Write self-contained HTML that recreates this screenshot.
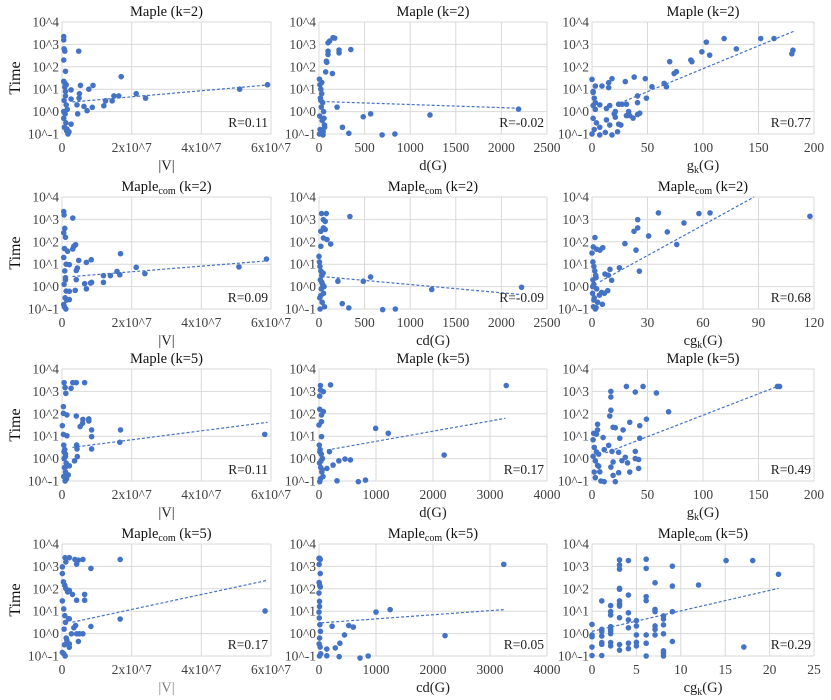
<!DOCTYPE html>
<html><head><meta charset="utf-8"><style>
body{margin:0;background:#fff;}
svg{display:block;font-family:"Liberation Serif",serif;}
</style></head><body>
<svg id="chart" width="831" height="700" viewBox="0 0 831 700" xmlns="http://www.w3.org/2000/svg"></svg>
<script>
// ---- data (x in axis units, y as log10(Time)) ----
const p1x=[0.48,1.70,0.53,0.89,0.77,0.26,0.5,0.49,1.49,1.63,2.13,2.4,5.1,5.9,1.2,1.44,1.25,0.63,0.72,0.87,0.45,0.26,0.14,0.43,0.26,0.05,0.05,0.06,0.08,0.05,0.1,0.07,0.05,0.12,0.08,0.1,0.06,0.12,0.15,0.09,0.05,0.11,0.07,0.13,0.2,0.17,0.05,0.1];
const p1y=[2.7,1.56,1.17,1.17,1.0,0.97,0.8,0.6,0.7,0.7,0.8,0.6,1.0,1.2,0.26,0.48,0.48,0.23,0.04,0.19,-0.1,-0.56,-0.78,0.3,0.56,3.35,3.2,2.8,2.7,2.3,1.8,1.3,1.35,1.2,1.1,0.7,0.5,0.3,0.1,-0.1,-0.3,-0.5,-0.7,-0.85,-0.9,-1.0,0.0,0.9];
const t1=[0.3,0.43,6,1.2];
const p2x=[117,154,172,99,99,99,81,85,220,220,349,147,73,198,485,566,1217,2188,257,327,692,832,62,44,5,10,20,30,15,40,25,50,8,35,60,12,45,30,20,55,5];
const p2y=[3.15,3.3,3.28,3.07,2.7,2.55,2.25,2.2,2.62,2.75,2.77,1.7,1.77,0.2,-0.23,-0.1,-0.15,0.11,-0.7,-0.97,-1.04,-1.0,-0.7,-1.04,1.45,1.2,1.0,0.8,0.6,0.4,0.2,0.0,-0.2,-0.4,-0.6,-0.8,-0.9,1.3,0.5,-0.3,-1.0];
const t2=[30,0.45,2200,0.15];
const p3x=[103,119,152,164,130,99,106,89,90,70,74,76,65,67,54,181,180,48,38,30,18,15,15,41,49,41,43,41,37,33,31,34,24,27,31,20,21,16,13,13,16,21,24,26,23,18,12,7,7,7,9,3,0,1,1,2,3,1,4,2,0,1,3];
const p3y=[3.1,3.26,3.26,3.26,2.8,2.67,2.52,2.3,2.23,2.23,1.7,1.78,1.26,1.11,1.11,2.74,2.58,1.47,1.54,1.34,1.47,1.29,1.07,0.7,0.6,0.4,-0.07,-0.13,-0.29,0.0,-0.18,-0.18,0.33,0.33,0.33,-0.1,-0.25,0.27,0.14,-0.37,-0.6,0.0,-0.56,-0.6,-0.9,-1.04,-0.93,-1.04,-0.7,0.3,1.14,1.14,1.44,0.86,0.27,0.6,0.1,-0.3,-0.5,-0.8,-1.0,0.9,0.4];
const t3=[25,0.38,182,3.59];
const p4x=[0.31,0.34,0.39,0.16,0.31,0.48,0.84,0.7,1.68,2.13,2.38,1.58,1.66,1.39,1.19,1.19,0.85,0.65,0.7,0.82,0.41,0.38,0.21,0.44,0.41,5.08,5.87,0.21,0.21,0.05,0.06,0.08,0.05,0.1,0.07,0.05,0.12,0.08,0.1,0.06,0.12,0.09,0.05,0.11,0.07,0.13,0.1];
const p4y=[3.06,1.8,1.87,1.58,1.68,1.17,1.2,1.08,1.47,0.86,0.58,0.68,0.53,0.49,0.49,0.19,0.19,0.13,-0.1,0.16,0.31,-0.17,0.98,0.83,0.72,0.88,1.23,-0.58,-0.21,3.35,3.2,2.6,2.4,2.2,1.7,1.3,1.0,0.7,0.4,0.1,-0.2,-0.5,-0.8,-1.0,-0.9,-0.6,0.3];
const t4=[0.3,0.45,5.9,1.15];
const p5x=[28,80,48,68,20,48,68,48,88,128,20,0,339,207,486,566,1236,2221,255,327,698,837,5,10,20,30,15,40,25,50,8,35,60,12,45,30,20,55];
const p5y=[3.26,3.26,2.99,2.91,2.47,2.62,2.55,2.17,2.1,1.9,1.8,1.35,3.13,0.24,0.24,0.43,-0.13,-0.03,-0.76,-0.95,-1.03,-1.0,1.1,0.9,0.7,0.5,0.3,0.1,-0.1,-0.3,-0.5,-0.7,-0.9,-1.0,0.6,0.2,-0.4,0.0];
const t5=[30,0.45,2200,-0.35];
const p6x=[35.9,57.8,63.8,117.8,49.7,24.7,24.7,22.7,30.6,40.7,45.8,17.8,23.8,1.6,0.7,5.8,4.3,2.5,0,14.8,9.7,25.6,7,8.8,10.6,8.5,5.2,6.7,4,5.6,2.2,0.5,1,1.5,2,0.5,1,2.5,0.3,1.2,3,0.8,1.8,0.4,2.2,1];
const p6y=[3.29,3.26,3.29,3.14,2.84,2.99,2.62,2.47,2.26,2.44,1.88,1.92,1.63,2.19,1.77,1.74,1.63,1.67,1.5,0.84,0.77,0.69,0.56,0.51,0.28,-0.18,-0.26,-0.3,-0.38,-0.79,-0.94,1.1,0.9,0.7,0.5,0.3,0.1,-0.1,-0.3,-0.5,-0.7,-0.9,-1.0,0.0,0.4,-0.6];
const t6=[4.3,0.22,87.6,4.0];
const p7x=[0.06,0.31,0.09,0.26,0.11,0.41,0.65,0.04,0.04,0.14,0.41,0.01,0.04,0.14,0.6,0.59,0.52,0.77,0.77,0.85,0.85,1.68,1.66,0.85,0.42,0.43,0.44,0.36,0.21,0.11,0.18,5.82,0.05,0.08,0.1,0.06,0.12,0.07,0.1,0.05,0.09,0.13,0.06,0.1];
const p7y=[3.39,3.39,3.17,3.14,2.91,3.39,3.39,2.32,2.02,1.95,1.9,1.47,1.08,1.02,1.75,1.58,1.43,1.68,1.77,1.28,0.98,1.28,0.73,0.43,0.61,0.43,0.09,-0.1,-0.32,-0.36,-0.73,1.08,0.6,0.4,0.2,0.0,-0.2,-0.4,-0.6,-0.8,-1.0,-0.9,0.3,0.1];
const t7=[0.3,0.5,5.9,1.62];
const p8x=[25,25,13,76,202,3285,13,76,44,0,44,44,994,1215,2196,184,456,551,348,247,139,316,690,816,13,5,20,40,60,10,30,50,70,15,35,55,25];
const p8y=[3.26,3.06,2.79,2.99,3.29,3.26,2.2,2.1,1.95,1.5,1.65,0.98,1.35,1.13,0.16,0.31,-0.02,-0.06,-0.1,-0.29,-0.44,-0.99,-1.03,-0.96,-1.03,0.6,0.4,0.2,0.0,-0.2,-0.4,-0.6,-0.8,0.3,-0.1,-0.5,-0.9];
const t8=[139,0.38,3272,1.8];
const p9x=[31,46,39,58,17,17,17,16,69,49,34,43,19,21,28,5,5,4,1.5,1,10,25,43,167,169,15,11,18,24,39,30,39,42,27,19,17,32,24,34,42,19,11,21,7,6,3,2,4,1,3,5,2,6,8];
const p9y=[3.22,3.22,2.97,2.93,3.0,2.75,2.16,1.9,2.09,1.76,1.62,1.47,1.4,1.38,1.28,1.53,1.28,1.09,1.13,0.84,0.94,0.91,0.91,3.22,3.22,0.59,0.4,0.32,0.28,0.32,0.06,0,-0.04,-0.09,-0.15,-0.38,-0.19,-0.63,-0.6,-0.44,-0.75,-1.03,-1.03,-0.59,-0.34,-0.85,0.5,0.3,0.1,-0.1,-0.3,-0.6,0.2,-1.0];
const t9=[12,0.25,167,3.22];
const p10x=[0.09,0.21,0.37,0.6,0.42,0.47,0.01,0.11,1.67,0.83,0.01,0.04,0.08,0.11,0.16,0.21,0.01,0.3,0.42,0.65,0.65,0.21,0.34,0.39,0.42,0.5,0.47,0.21,0.21,0.01,0.27,0.14,0.6,0.83,1.67,5.83,0.19,0.05,0.08,0.1,0.06,0.12,0.07,0.05,0.09];
const p10y=[3.39,3.39,3.31,3.31,3.1,3.28,2.98,3.2,3.31,2.91,2.68,2.31,2.16,2.01,1.86,1.93,1.46,1.75,1.49,1.49,1.75,0.66,0.26,0.36,-0.01,-0.01,-0.35,-0.46,-0.61,-0.84,-0.01,-0.31,-0.01,0.32,0.65,1.01,0.66,1.1,0.8,0.5,0.2,-0.2,-0.5,-0.9,-1.0];
const t10=[0.3,0.51,5.9,2.38];
const p11x=[0,12,22,2.5,22,2.5,12,22,0,9,9,0,3242,1000,1248,230,522,602,447,366,286,137,137,354,720,863,2211,2.5,5,15,25,10,20,30,8];
const p11y=[3.36,3.36,3.31,3.09,2.68,2.28,2.16,2.08,1.81,1.44,1.21,0.96,3.09,0.96,1.07,0.33,0.36,0.29,-0.06,-0.43,-0.64,-0.69,-0.99,-1.03,-1.09,-1.0,-0.09,-0.46,0.7,0.4,0.1,-0.2,-0.6,-0.9,-1.0];
const t11=[40,0.48,3240,1.07];
const p12x=[3.1,3.1,3.1,4.1,6.1,6.1,9.05,15.1,18.1,21,7.1,9.05,12,3.1,3.1,4.1,6.1,6.1,1.1,2.1,3.1,3.1,3.1,7.1,7.1,2.1,2.1,4.1,9.05,3.1,4.1,5,5,8.05,8.05,8.05,0,1.1,1.1,2.1,2.1,4.1,7.1,7.1,7.1,0,0,1.1,2.1,5,6.1,8.05,9.05,1.1,1.1,2.1,2.1,3.1,3.1,4.1,4.1,5,5,6.1,6.1,8.05,8.05,8.05,0,0,1.1,17.1,2.1];
const p12y=[3.29,3.06,2.88,3.26,3.32,2.91,3.01,3.26,3.26,2.65,2.27,2.12,2.17,2.02,1.98,1.72,1.65,1.47,1.46,1.25,1.46,1.32,1.23,1.08,0.98,0.98,0.83,0.93,0.98,0.71,0.61,0.58,0.34,0.79,0.65,0.39,0.41,0.19,0.09,0.31,0.2,0.26,0.34,0.19,-0.06,-0.06,-0.14,-0.11,0,-0.06,-0.06,-0.01,-0.35,-0.4,-0.48,-0.4,-0.55,-0.49,-0.74,-0.43,-0.67,-0.39,-0.55,-0.43,-1.0,-0.77,-0.87,-1.0,-0.6,-0.98,-0.98,-0.6,0.13];
const t12=[0,0.1,21,2.02];

const xsV=[0,2,4,6], xsVl=["0","2x10^7","4x10^7","6x10^7"];
const xs2500=[0,500,1000,1500,2000,2500];
const xs4000=[0,1000,2000,3000,4000];
const xs200=[0,50,100,150,200];
const xs120=[0,30,60,90,120];
const xs25=[0,5,10,15,20,25];
const yTicks=[-1,0,1,2,3,4];
const yTickLabels=["10^-1","10^0","10^1","10^2","10^3","10^4"];
const rLabels=["R=0.11","R=-0.02","R=0.77","R=0.09","R=-0.09","R=0.68","R=0.11","R=0.17","R=0.49","R=0.17","R=0.05","R=0.29"];

const NS="http://www.w3.org/2000/svg";
const svg=document.getElementById('chart');
const colL=[62,319,592], colR=[271,547,814], rowT=[22,197,369,544], PH=112;
const T2='Maple (k=2)', T2c='Maple<tspan font-size="10" dy="3">com</tspan><tspan dy="-3"> (k=2)</tspan>';
const T5='Maple (k=5)', T5c='Maple<tspan font-size="10" dy="3">com</tspan><tspan dy="-3"> (k=5)</tspan>';
const AV='|V|', AD='d(G)', ACD='cd(G)';
const AG='g<tspan font-size="10" dy="3">k</tspan><tspan dy="-3">(G)</tspan>';
const ACG='cg<tspan font-size="10" dy="3">k</tspan><tspan dy="-3">(G)</tspan>';
const panels=[
 {x:p1x,y:p1y,t:t1,ticks:xsV,lab:xsVl,title:T2,ax:AV},
 {x:p2x,y:p2y,t:t2,ticks:xs2500,lab:null,title:T2,ax:AD},
 {x:p3x,y:p3y,t:t3,ticks:xs200,lab:null,title:T2,ax:AG},
 {x:p4x,y:p4y,t:t4,ticks:xsV,lab:xsVl,title:T2c,ax:AV},
 {x:p5x,y:p5y,t:t5,ticks:xs2500,lab:null,title:T2c,ax:ACD},
 {x:p6x,y:p6y,t:t6,ticks:xs120,lab:null,title:T2c,ax:ACG},
 {x:p7x,y:p7y,t:t7,ticks:xsV,lab:xsVl,title:T5,ax:AV},
 {x:p8x,y:p8y,t:t8,ticks:xs4000,lab:null,title:T5,ax:AD},
 {x:p9x,y:p9y,t:t9,ticks:xs200,lab:null,title:T5,ax:AG},
 {x:p10x,y:p10y,t:t10,ticks:xsV,lab:xsVl,title:T5c,ax:AV},
 {x:p11x,y:p11y,t:t11,ticks:xs4000,lab:null,title:T5c,ax:ACD},
 {x:p12x,y:p12y,t:t12,ticks:xs25,lab:null,title:T5c,ax:ACG}
];
function mk(tag,attrs,parent){const e=document.createElementNS(NS,tag);for(const k in attrs)e.setAttribute(k,attrs[k]);(parent||svg).appendChild(e);return e;}

panels.forEach((p,i)=>{
 const c=i%3,r=Math.floor(i/3);
 const L=colL[c],R=colR[c],T=rowT[r],B=T+PH;
 const xmax=p.ticks[p.ticks.length-1];
 const sx=v=>L+(v/xmax)*(R-L);
 const sy=v=>B-((v+1)/5)*PH;
 const g=mk('g',{});
 
 
 yTicks.forEach((v,k)=>{
  const ln=mk('line',{x1:L,x2:R,y1:sy(v),y2:sy(v),stroke:'#d9d9d9','stroke-width':1},g);
  
  
  const tx=mk('text',{x:L-3,y:sy(v)+4.5,'text-anchor':'end','font-size':13.5,fill:'#404040'},g);
  
  
  tx.textContent=yTickLabels[k];
 });
 p.ticks.forEach((v,k)=>{
  const ln=mk('line',{x1:sx(v),x2:sx(v),y1:T,y2:B,stroke:'#d9d9d9','stroke-width':1},g);
  
  
  const tx=mk('text',{x:sx(v),y:B+18,'text-anchor':'middle','font-size':13.5,fill:'#404040'},g);
  
  
  tx.textContent=p.lab?p.lab[k]:String(v);
 });
 p.x.forEach((xv,k)=>{
  const d=mk('circle',{cx:sx(xv),cy:sy(p.y[k]),r:2.8,fill:'#4472C4'},g);
  
  
 });
 const tl=mk('line',{x1:sx(p.t[0]),y1:sy(p.t[1]),x2:sx(p.t[2]),y2:sy(p.t[3]),stroke:'#4472C4','stroke-width':1.2,'stroke-dasharray':'3 2'},g);
 
 
 const rl=mk('text',{x:R-3,y:B-7,'text-anchor':'end','font-size':13.5,fill:'#222'},g);
 
 
 rl.textContent=rLabels[i];
 const tt=mk('text',{x:(L+R)/2,y:T-6,'text-anchor':'middle','font-size':14.5,fill:'#111'},g);
 
 
 tt.innerHTML=p.title;
 const at=mk('text',{x:(L+R)/2,y:B+36,'text-anchor':'middle','font-size':14.5,fill:(i===9?'#808080':'#222')},g);
 
 
 at.innerHTML=p.ax;
 if(c===0){
  const yt=mk('text',{x:20,y:(T+B)/2,'text-anchor':'middle','font-size':16,fill:'#111',transform:'rotate(-90 20 '+((T+B)/2)+')'},g);
  
  
  yt.textContent='Time';
 }
});
</script>
</body></html>
